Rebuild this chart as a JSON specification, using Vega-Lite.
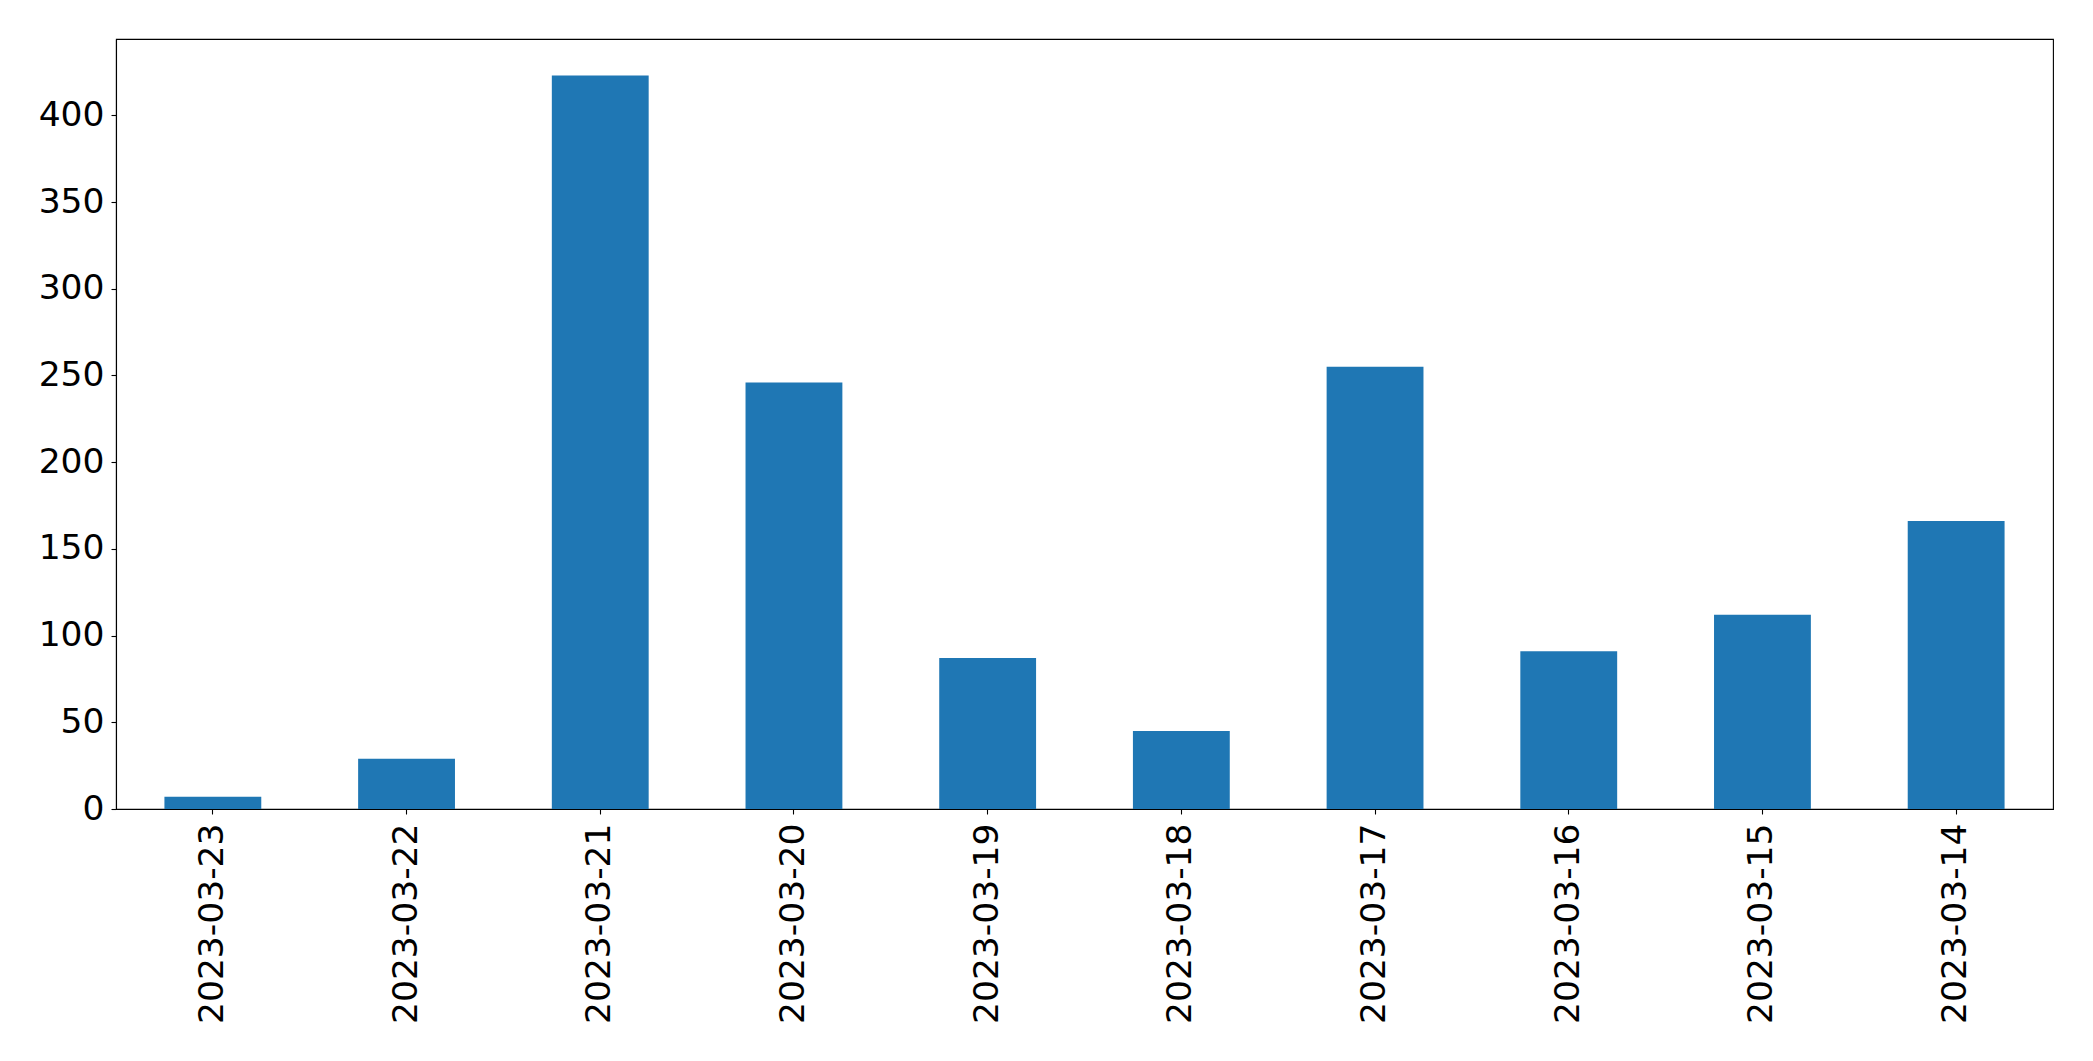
{
  "$schema": "https://vega.github.io/schema/vega-lite/v6.json",
  "autosize": {"type": "none"},
  "padding": {"left": 116, "top": 39, "right": 40, "bottom": 252},
  "width": 1937,
  "height": 770,
  "background": "white",
  "config": {
    "view": {"stroke": "black", "strokeWidth": 1.1},
    "axis": {
      "labelFont": "DejaVu Sans",
      "labelFontSize": 34.5,
      "labelColor": "black",
      "labelLimit": 0,
      "domainColor": "black",
      "domainWidth": 1.1,
      "tickColor": "black",
      "tickWidth": 1.1,
      "tickSize": 5,
      "grid": false,
      "title": null
    }
  },
  "data": {
    "values": [
      {"date": "2023-03-23", "count": 7},
      {"date": "2023-03-22", "count": 29},
      {"date": "2023-03-21", "count": 423},
      {"date": "2023-03-20", "count": 246},
      {"date": "2023-03-19", "count": 87},
      {"date": "2023-03-18", "count": 45},
      {"date": "2023-03-17", "count": 255},
      {"date": "2023-03-16", "count": 91},
      {"date": "2023-03-15", "count": 112},
      {"date": "2023-03-14", "count": 166}
    ]
  },
  "mark": {"type": "bar", "color": "#1f77b4"},
  "encoding": {
    "x": {
      "field": "date",
      "type": "nominal",
      "sort": null,
      "scale": {"paddingInner": 0.5, "paddingOuter": 0.25},
      "axis": {"labelAngle": -90, "labelAlign": "right", "labelBaseline": "middle", "labelPadding": 9}
    },
    "y": {
      "field": "count",
      "type": "quantitative",
      "scale": {"domain": [0, 444], "nice": false, "zero": true},
      "axis": {"values": [0, 50, 100, 150, 200, 250, 300, 350, 400], "labelPadding": 7}
    }
  }
}
